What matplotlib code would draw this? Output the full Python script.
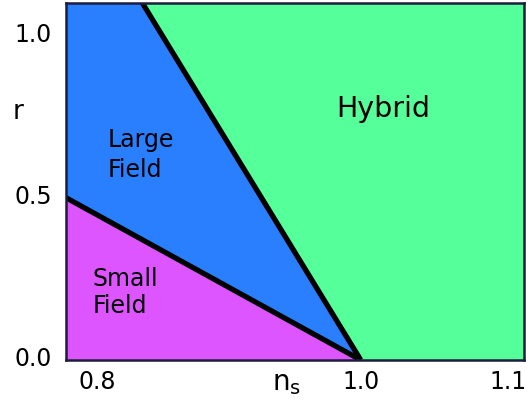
"""Inflation model zoo: small field / large field / hybrid regions in the (n_s, r) plane."""
import numpy as np
import matplotlib
matplotlib.use("Agg")
import matplotlib.pyplot as plt
import matplotlib.transforms as mtransforms

# axis ranges
ns_range = [0.776, 1.124]
r_range  = [0.0, 1.1]

# region boundaries
ns_small_edge = [0.776, 1.0]   # small field / large field
r_small_edge  = [0.50, 0.0]
ns_large_edge = [0.834, 1.0]   # large field / hybrid
r_large_edge  = [1.10, 0.0]

xticks      = [0.8, 1.0, 1.1]
xticklabels = ["0.8", "1.0", "1.1"]
yticks      = [0.0, 0.5, 1.0]
yticklabels = ["0.0", "0.5", "1.0"]

_BLUE    = "#2a7fff"
_MAGENTA = "#dd55ff"
_GREEN   = "#55ff99"
_FRAME   = "#1c1c3c"

fig = plt.figure(figsize=(5.26, 4.03), dpi=100)
ax = fig.add_axes([0.1255, 0.1067, 0.8705, 0.8859])
ax.set_xlim(ns_range)
ax.set_ylim(r_range)

# hybrid = everything, then paint the other two on top
ax.set_facecolor(_GREEN)
xmin, ytop = ns_range[0], r_range[1]
ax.fill([xmin, xmin, ns_large_edge[0], ns_large_edge[1]],
        [r_small_edge[0], ytop, r_large_edge[0], r_large_edge[1]],
        color=_BLUE, lw=0)
ax.fill([xmin, ns_small_edge[0], ns_small_edge[1]],
        [r_range[0], r_small_edge[0], r_small_edge[1]],
        color=_MAGENTA, lw=0)

ax.plot(ns_small_edge, r_small_edge, color="black", lw=3.8, solid_capstyle="butt")
ax.plot(ns_large_edge, r_large_edge, color="black", lw=3.8, solid_capstyle="butt")

# va="baseline" on two-line text pins the baseline of the second line
ax.text(1.017, 0.749, "Hybrid", fontsize=20.5, ha="center", va="baseline")
ax.text(0.808, 0.564, "Large\nField", fontsize=17, ha="left", va="baseline",
        linespacing=1.3)
ax.text(0.7965, 0.145, "Small\nField", fontsize=17, ha="left", va="baseline",
        linespacing=1.15)

ax.set_xticks(xticks, xticklabels, fontsize=17)
ax.set_yticks(yticks, yticklabels, fontsize=17)
ax.tick_params(length=0)
ax.tick_params(axis="x", pad=7)
ax.tick_params(axis="y", pad=10)

# the picture puts "1.1" a bit right of its tick and lifts the y labels
shift = mtransforms.ScaledTranslation(16 / 100, 0, fig.dpi_scale_trans)
lbl = ax.get_xticklabels()[-1]
lbl.set_transform(lbl.get_transform() + shift)
for lbl in ax.get_yticklabels():
    lbl.set_transform(lbl.get_transform()
                      + mtransforms.ScaledTranslation(0, 3 / 100, fig.dpi_scale_trans))

fig.text(18 / 526, 1 - 112 / 403, "r", fontsize=19, ha="center", va="center")
fig.text(287 / 526, 1 - 383 / 403, r"$\mathregular{n_s}$", fontsize=20,
         ha="center", va="center")

for sp in ax.spines.values():
    sp.set_color(_FRAME)
    sp.set_linewidth(1.8)

fig.savefig("out.png", dpi=100)
